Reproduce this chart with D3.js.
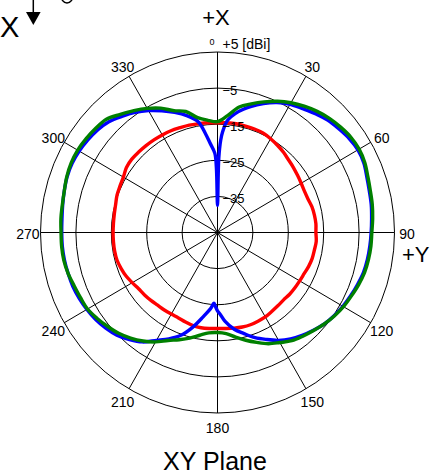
<!DOCTYPE html>
<html>
<head>
<meta charset="utf-8">
<script src="https://cdn.jsdelivr.net/npm/d3@7"></script>
<style>
  body { margin: 0; background: #fff; }
  svg { display: block; }
  text { font-family: "Liberation Sans", Arial, sans-serif; fill: #000; }
</style>
</head>
<body>
<svg id="chart" width="445" height="476"></svg>
<script>
'use strict';

// rings of the polar grid [dBi], outermost first
var ringLevels = [5, -5, -15, -25, -35];
var ringLabels = ['+5 [dBi]', '\u22125', '\u221215', '\u221225', '\u221235'];

// spokes every 30 degrees, clockwise from +X (top)
var spokeAngles = [0, 30, 60, 90, 120, 150, 180, 210, 240, 270, 300, 330];
var spokeLabels = ['0', '30', '60', '90', '120', '150', '180', '210', '240', '270', '300', '330'];

// red and green are sampled every 5 degrees
var angles = d3.range(0, 360, 5);

var redDb = [
  -14.6, -14.5, -14.4, -14.5, -14.5, -14.6, -15.0, -15.5, -16.0, -16.6, -17.0, -17.4,
  -17.7, -17.9, -17.8, -17.4, -17.2, -17.1, -17.2, -17.0, -17.2, -17.3, -17.6, -18.0,
  -18.2, -18.3, -18.4, -18.6, -18.5, -18.3, -18.0, -17.9, -17.8, -17.9, -18.1, -18.3,
  -18.4, -18.3, -18.2, -18.3, -18.6, -18.9, -18.9, -18.8, -18.7, -18.4, -18.1, -17.8,
  -17.2, -16.5, -16.0, -15.6, -15.5, -15.5, -15.5, -15.5, -15.4, -15.2, -14.8, -14.6,
  -14.3, -13.6, -13.4, -13.5, -13.6, -13.7, -13.8, -13.9, -14.1, -14.2, -14.4, -14.5
];

var greenDb = [
  -14.3, -12.5, -9.7, -8.1, -6.5, -4.9, -3.5, -2.3, -1.2, -0.3, 0.4, 1.0,
  1.2, 0.9, 0.2, -0.3, -0.6, -1.0, -1.4, -1.5, -1.7, -2.0, -2.6, -3.3,
  -3.9, -4.7, -5.6, -6.6, -7.5, -8.4, -9.8, -11.0, -12.6, -14.1, -15.6, -16.9,
  -17.3, -17.1, -16.1, -14.7, -13.4, -12.0, -10.0, -8.3, -6.8, -5.5, -4.5, -3.5,
  -2.6, -2.3, -1.9, -1.3, -0.9, -0.8, -0.8, -0.6, -0.5, -0.2, 0.3, 0.6,
  0.6, 0.3, -0.1, -0.6, -2.3, -3.8, -5.3, -7.0, -9.1, -10.3, -12.7, -13.8
];

// blue has two deep nulls, so it gets extra samples near 0 and 180 degrees
var blueAngles = [
  0, 1, 2, 3, 5, 10, 15, 20, 25, 30, 35, 40, 45, 50, 55, 60, 65, 70, 75, 80, 85,
  90, 95, 100, 105, 110, 115, 120, 125, 130, 135, 140, 145, 150, 155, 160, 165, 170,
  175, 178, 180, 182, 183, 185, 190, 195, 200, 205, 210, 215, 220, 225, 230, 235,
  240, 245, 250, 255, 260, 265, 270, 275, 280, 285, 290, 295, 300, 305, 310, 315,
  320, 325, 330, 335, 340, 345, 350, 353, 355, 358, 359
];
var blueDb = [
  -37.5, -24.5, -19.5, -17.0, -14.0, -11.0, -8.9, -7.0, -5.3, -4.0, -3.1, -2.0, -1.0, -0.3, 0.4, 0.8, 0.6, -0.1, -0.6, -0.9, -1.3,
  -1.6, -1.8, -2.0, -2.3, -2.9, -3.5, -4.1, -4.8, -5.6, -6.7, -7.8, -9.0, -10.5, -12.3, -14.0, -16.0, -17.8,
  -20.3, -22.3, -23.3, -24.8, -25.4, -24.0, -21.2, -17.8, -14.7, -12.5, -10.5, -8.0, -6.3, -4.8, -3.8, -3.0,
  -2.4, -1.9, -1.5, -1.3, -1.1, -1.0, -1.0, -0.9, -0.6, -0.2, 0.2, 0.3, 0.1, -0.3, -0.8, -1.6,
  -3.0, -4.4, -6.0, -7.8, -9.6, -11.5, -13.9, -17.5, -20.0, -23.0, -27.0
];

var svg = d3.select('#chart');

// the plot is very slightly taller than it is wide
var cx = 217.5, cy = 232.5, rx = 177, ry = 180.5;
var rho = d3.scaleLinear().domain([-45, 5]).range([0, 1]);

function px(a, db) {
  return cx + rx * rho(db) * Math.sin(a * Math.PI / 180);
}
function py(a, db) {
  return cy - ry * rho(db) * Math.cos(a * Math.PI / 180);
}

var grid = svg.append('g').attr('class', 'grid');

grid.selectAll('ellipse')
  .data(ringLevels)
  .enter()
  .append('ellipse')
  .attr('cx', cx)
  .attr('cy', cy)
  .attr('rx', function (d) { return rx * rho(d); })
  .attr('ry', function (d) { return ry * rho(d); })
  .attr('fill', 'none')
  .attr('stroke', '#000')
  .attr('stroke-width', 1);

grid.selectAll('line')
  .data(spokeAngles)
  .enter()
  .append('line')
  .attr('x1', cx)
  .attr('y1', cy)
  .attr('x2', function (d) { return px(d, 5); })
  .attr('y2', function (d) { return py(d, 5); })
  .attr('stroke', '#000')
  .attr('stroke-width', 1);

// curves: red first, green on top
var series = [
  {name: 'red', color: '#ff0000', a: angles, v: redDb},
  {name: 'blue', color: '#0000ff', a: blueAngles, v: blueDb},
  {name: 'green', color: '#008000', a: angles, v: greenDb}
];

var line = d3.line()
  .x(function (d) { return px(d[0], d[1]); })
  .y(function (d) { return py(d[0], d[1]); })
  .curve(d3.curveCatmullRomClosed.alpha(0.5));

svg.append('g')
  .selectAll('path')
  .data(series)
  .enter()
  .append('path')
  .attr('d', function (s) { return line(d3.zip(s.a, s.v)); })
  .attr('fill', 'none')
  .attr('stroke', function (s) { return s.color; })
  .attr('stroke-width', 3.4)
  .attr('stroke-linejoin', 'round');

// ring labels, just right of the 0 degree spoke; the minus sits on the ring
var rl = svg.append('g').attr('class', 'ring-labels');
rl.selectAll('text')
  .data(ringLevels)
  .enter()
  .append('text')
  .attr('x', cx + 5)
  .attr('y', function (d, i) { return i === 0 ? py(0, d) - 3 : py(0, d) + 2; })
  .attr('dy', function (d, i) { return i === 0 ? 0 : '0.35em'; })
  .style('font-size', function (d, i) { return i === 0 ? '14px' : '13px'; })
  .text(function (d, i) { return ringLabels[i]; });

// angle labels outside the outer ring
var labelGap = 12.6;
var al = svg.append('g').attr('class', 'angle-labels');
al.selectAll('text')
  .data(spokeAngles)
  .enter()
  .append('text')
  .attr('x', function (d) {
    if (d === 0) { return cx - 3; }
    return cx + (rx + labelGap) * Math.sin(d * Math.PI / 180);
  })
  .attr('y', function (d) {
    if (d === 0) { return cy - ry - 7; }
    return cy - (ry + labelGap) * Math.cos(d * Math.PI / 180) + 2;
  })
  .attr('dy', function (d) { return d === 0 ? 0 : '0.35em'; })
  .attr('text-anchor', function (d) { return d === 0 ? 'end' : 'middle'; })
  .style('font-size', function (d) { return d === 0 ? '9px' : '14px'; })
  .text(function (d, i) { return spokeLabels[i]; });

// axis names
svg.append('text')
  .attr('x', 216)
  .attr('y', 25)
  .attr('text-anchor', 'middle')
  .style('font-size', '22px')
  .text('+X');

svg.append('text')
  .attr('x', 402)
  .attr('y', 262)
  .style('font-size', '22px')
  .text('+Y');

svg.append('text')
  .attr('x', 215)
  .attr('y', 470)
  .attr('text-anchor', 'middle')
  .style('font-size', '25px')
  .text('XY Plane');

// coordinate sketch, cut off at the top-left corner
svg.append('text')
  .attr('x', 0)
  .attr('y', 37)
  .style('font-size', '29px')
  .text('X');

svg.append('line')
  .attr('x1', 33.3).attr('y1', 0)
  .attr('x2', 33.3).attr('y2', 14)
  .attr('stroke', '#000')
  .attr('stroke-width', 1.5);

svg.append('path')
  .attr('d', 'M26,12L40.6,12L33.3,25Z')
  .attr('fill', '#000');

svg.append('path')
  .attr('d', 'M62,0Q67,6 72,0')
  .attr('fill', 'none')
  .attr('stroke', '#000')
  .attr('stroke-width', 1.5);
</script>
</body>
</html>
